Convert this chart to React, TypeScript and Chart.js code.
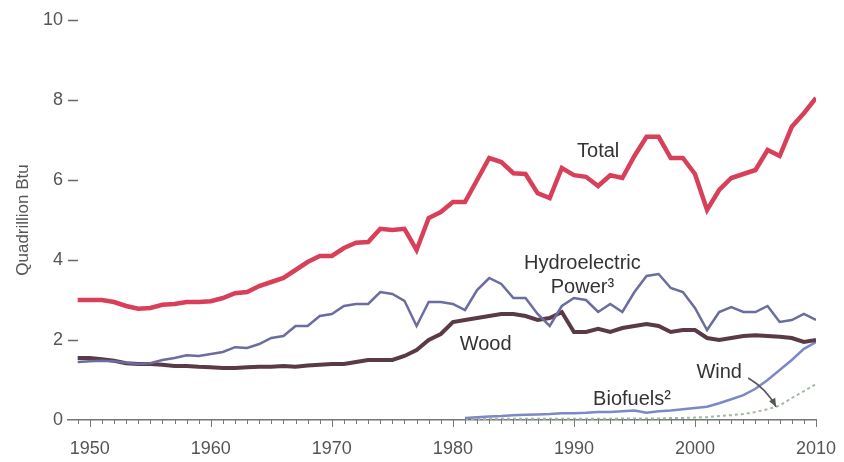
import React, { useEffect, useRef } from "react";
import { Chart, registerables } from "chart.js";

Chart.register(...registerables);

const years = [
  1949, 1950, 1951, 1952, 1953, 1954, 1955, 1956, 1957, 1958,
  1959, 1960, 1961, 1962, 1963, 1964, 1965, 1966, 1967, 1968,
  1969, 1970, 1971, 1972, 1973, 1974, 1975, 1976, 1977, 1978,
  1979, 1980, 1981, 1982, 1983, 1984, 1985, 1986, 1987, 1988,
  1989, 1990, 1991, 1992, 1993, 1994, 1995, 1996, 1997, 1998,
  1999, 2000, 2001, 2002, 2003, 2004, 2005, 2006, 2007, 2008,
  2009, 2010,
];

const totalValues = [
  3.0, 3.0, 3.0, 2.95, 2.85, 2.78, 2.8, 2.88, 2.9, 2.95,
  2.95, 2.97, 3.05, 3.17, 3.2, 3.35, 3.45, 3.55, 3.75, 3.95,
  4.1, 4.1, 4.3, 4.43, 4.45, 4.78, 4.75, 4.78, 4.25, 5.05,
  5.2, 5.45, 5.45, 6.0, 6.55, 6.45, 6.17, 6.15, 5.67, 5.55,
  6.3, 6.12, 6.08, 5.85, 6.12, 6.05, 6.6, 7.08, 7.08, 6.55,
  6.55, 6.15, 5.25, 5.75, 6.05, 6.15, 6.25, 6.75, 6.6, 7.33,
  7.67, 8.05,
];

const hydroValues = [
  1.45, 1.47, 1.48, 1.47, 1.43, 1.4, 1.42, 1.5, 1.55, 1.62,
  1.6, 1.65, 1.7, 1.82, 1.8, 1.9, 2.05, 2.1, 2.35, 2.35,
  2.6, 2.65, 2.85, 2.9, 2.9, 3.2, 3.15, 2.98, 2.35, 2.95,
  2.95, 2.9, 2.75, 3.25, 3.55, 3.4, 3.05, 3.05, 2.65, 2.35,
  2.85, 3.05, 3.0, 2.7, 2.9, 2.7, 3.2, 3.6, 3.65, 3.3,
  3.2, 2.8, 2.25, 2.7, 2.82, 2.7, 2.7, 2.85, 2.45, 2.5,
  2.65, 2.5,
];

const woodValues = [
  1.55, 1.55, 1.52, 1.48, 1.42, 1.4, 1.4, 1.38, 1.35, 1.35,
  1.33, 1.32, 1.3, 1.3, 1.32, 1.33, 1.33, 1.35, 1.33, 1.36,
  1.38, 1.4, 1.4, 1.45, 1.5, 1.5, 1.5, 1.6, 1.75, 2.0,
  2.15, 2.45, 2.5, 2.55, 2.6, 2.65, 2.65, 2.6, 2.5, 2.55,
  2.7, 2.2, 2.2, 2.28, 2.2, 2.3, 2.35, 2.4, 2.35, 2.2,
  2.25, 2.25, 2.05, 2.0, 2.05, 2.1, 2.12, 2.1, 2.08, 2.05,
  1.95, 2.0,
];

const newYears = [
  1981, 1982, 1983, 1984, 1985, 1986, 1987, 1988, 1989, 1990,
  1991, 1992, 1993, 1994, 1995, 1996, 1997, 1998, 1999, 2000,
  2001, 2002, 2003, 2004, 2005, 2006, 2007, 2008, 2009, 2010,
];

const biofuelValues = [
  0.05, 0.07, 0.09, 0.1, 0.12, 0.13, 0.14, 0.15, 0.17, 0.17,
  0.18, 0.2, 0.2, 0.22, 0.24, 0.18, 0.22, 0.24, 0.27, 0.3,
  0.33, 0.42, 0.52, 0.62, 0.78, 1.0, 1.25, 1.5, 1.78, 1.95,
];

const windValues = [
  0.02, 0.02, 0.03, 0.03, 0.03, 0.03, 0.03, 0.03, 0.03, 0.03,
  0.03, 0.03, 0.03, 0.04, 0.04, 0.04, 0.04, 0.05, 0.05, 0.06,
  0.07, 0.1, 0.12, 0.15, 0.2, 0.27, 0.36, 0.55, 0.72, 0.9,
];

const xTickYears = [1950, 1960, 1970, 1980, 1990, 2000, 2010];
const yTickValues = [0, 2, 4, 6, 8, 10];

const labelNotes = [
  { text: "Total", year: 1992.0, value: 6.72 },
  { text: "Hydroelectric", year: 1990.7, value: 3.92 },
  { text: "Power\u00B3", year: 1990.7, value: 3.32 },
  { text: "Wood", year: 1982.7, value: 1.9 },
  { text: "Wind", year: 2002.0, value: 1.2 },
  { text: "Biofuels\u00B2", year: 1994.8, value: 0.52 },
];

const arrowFrom = { year: 2004.4, value: 1.05 };
const arrowTo = { year: 2006.7, value: 0.33 };

const FONT = '"Liberation Sans", Arial, Helvetica, sans-serif';

const overlayPlugin = {
  id: "overlay",
  afterDatasetsDraw(chart: any) {
    const { ctx } = chart;
    const x = chart.scales.x;
    const y = chart.scales.y;
    ctx.save();
    const y0 = y.getPixelForValue(0);
    ctx.strokeStyle = "#777";
    ctx.lineWidth = 1;
    for (let yr = Math.ceil(x.min); yr <= x.max; yr++) {
      const px = Math.round(x.getPixelForValue(yr)) + 0.5;
      const len = yr % 10 === 0 ? 7 : 4;
      ctx.beginPath();
      ctx.moveTo(px, y0 - 1);
      ctx.lineTo(px, y0 + len);
      ctx.stroke();
    }
    // y tick dashes
    ctx.strokeStyle = "#666";
    ctx.lineWidth = 1.5;
    for (const v of yTickValues) {
      if (v === 0) continue;
      const py = Math.round(y.getPixelForValue(v)) + 0.5;
      ctx.beginPath();
      ctx.moveTo(x.left, py);
      ctx.lineTo(x.left + 10, py);
      ctx.stroke();
    }
    ctx.font = `20px ${FONT}`;
    ctx.fillStyle = "#333";
    ctx.textAlign = "center";
    ctx.textBaseline = "middle";
    for (const a of labelNotes) {
      ctx.fillText(a.text, x.getPixelForValue(a.year), y.getPixelForValue(a.value));
    }
    // arrow
    const ax = x.getPixelForValue(arrowFrom.year);
    const ay = y.getPixelForValue(arrowFrom.value);
    const bx = x.getPixelForValue(arrowTo.year);
    const by = y.getPixelForValue(arrowTo.value);
    const cx = (ax + bx) / 2 + 4;
    const cy = (ay + by) / 2 - 4;
    ctx.strokeStyle = "#555";
    ctx.fillStyle = "#555";
    ctx.lineWidth = 1.5;
    ctx.beginPath();
    ctx.moveTo(ax, ay);
    ctx.quadraticCurveTo(cx, cy, bx, by);
    ctx.stroke();
    const ang = Math.atan2(by - cy, bx - cx);
    const hl = 9;
    ctx.beginPath();
    ctx.moveTo(bx, by);
    ctx.lineTo(bx - hl * Math.cos(ang - 0.4), by - hl * Math.sin(ang - 0.4));
    ctx.lineTo(bx - hl * Math.cos(ang + 0.4), by - hl * Math.sin(ang + 0.4));
    ctx.closePath();
    ctx.fill();
    ctx.restore();
  },
};

export default function App() {
  const canvasRef = useRef<HTMLCanvasElement | null>(null);

  useEffect(() => {
    if (!canvasRef.current) return;
    const mk = (xs: number[], vs: number[]) => xs.map((yr, i) => ({ x: yr, y: vs[i] }));
    const chart = new Chart(canvasRef.current, {
      type: "line",
      data: {
        datasets: [
          {
            label: "Total",
            data: mk(years, totalValues),
            borderColor: "#d8405a",
            borderWidth: 4.5,
            pointRadius: 0,
            tension: 0,
          },
          {
            label: "Hydroelectric Power",
            data: mk(years, hydroValues),
            borderColor: "#6a6d9e",
            borderWidth: 2.5,
            pointRadius: 0,
            tension: 0,
          },
          {
            label: "Wood",
            data: mk(years, woodValues),
            borderColor: "#5a3a46",
            borderWidth: 4,
            pointRadius: 0,
            tension: 0,
          },
          {
            label: "Biofuels",
            data: mk(newYears, biofuelValues),
            borderColor: "#7d88c6",
            borderWidth: 2.5,
            pointRadius: 0,
            tension: 0,
          },
          {
            label: "Wind",
            data: mk(newYears, windValues),
            borderColor: "#a3b9a3",
            borderWidth: 2,
            borderDash: [3, 3],
            pointRadius: 0,
            tension: 0,
          },
        ],
      },
      options: {
        responsive: false,
        animation: false,
        devicePixelRatio: 1,
        layout: { padding: { top: 20, right: 28, left: 0, bottom: 0 } },
        plugins: { legend: { display: false }, tooltip: { enabled: false } },
        scales: {
          x: {
            type: "linear",
            min: 1948.2,
            max: 2010,
            afterBuildTicks: (scale: any) => {
              scale.ticks = xTickYears.map((v) => ({ value: v }));
            },
            afterFit: (scale: any) => {
              scale.height = 42;
              scale.paddingLeft = 0;
              scale.paddingRight = 0;
            },
            grid: { display: false, drawTicks: false },
            border: { display: true, color: "#777", width: 1.5 },
            ticks: {
              autoSkip: false,
              maxRotation: 0,
              padding: 18,
              color: "#555",
              font: { size: 18, family: FONT },
              callback: (v: any) => String(v),
            },
          },
          y: {
            min: 0,
            max: 10,
            afterBuildTicks: (scale: any) => {
              scale.ticks = yTickValues.map((v) => ({ value: v }));
            },
            afterFit: (scale: any) => {
              scale.width = 68;
            },
            grid: { display: false, drawTicks: false },
            border: { display: false },
            ticks: {
              padding: 5,
              color: "#555",
              font: { size: 18, family: FONT },
              callback: (v: any) => String(v),
            },
            title: {
              display: true,
              text: "Quadrillion Btu",
              color: "#555",
              font: { size: 17, family: FONT },
              padding: { top: 13, bottom: 0 },
            },
          },
        },
      },
      plugins: [overlayPlugin],
    });
    return () => chart.destroy();
  }, []);

  return (
    <div style={{ position: "fixed", left: 0, top: 0, width: 844, height: 462, background: "#fff" }}>
      <canvas ref={canvasRef} width={844} height={462} style={{ width: 844, height: 462 }} />
    </div>
  );
}
